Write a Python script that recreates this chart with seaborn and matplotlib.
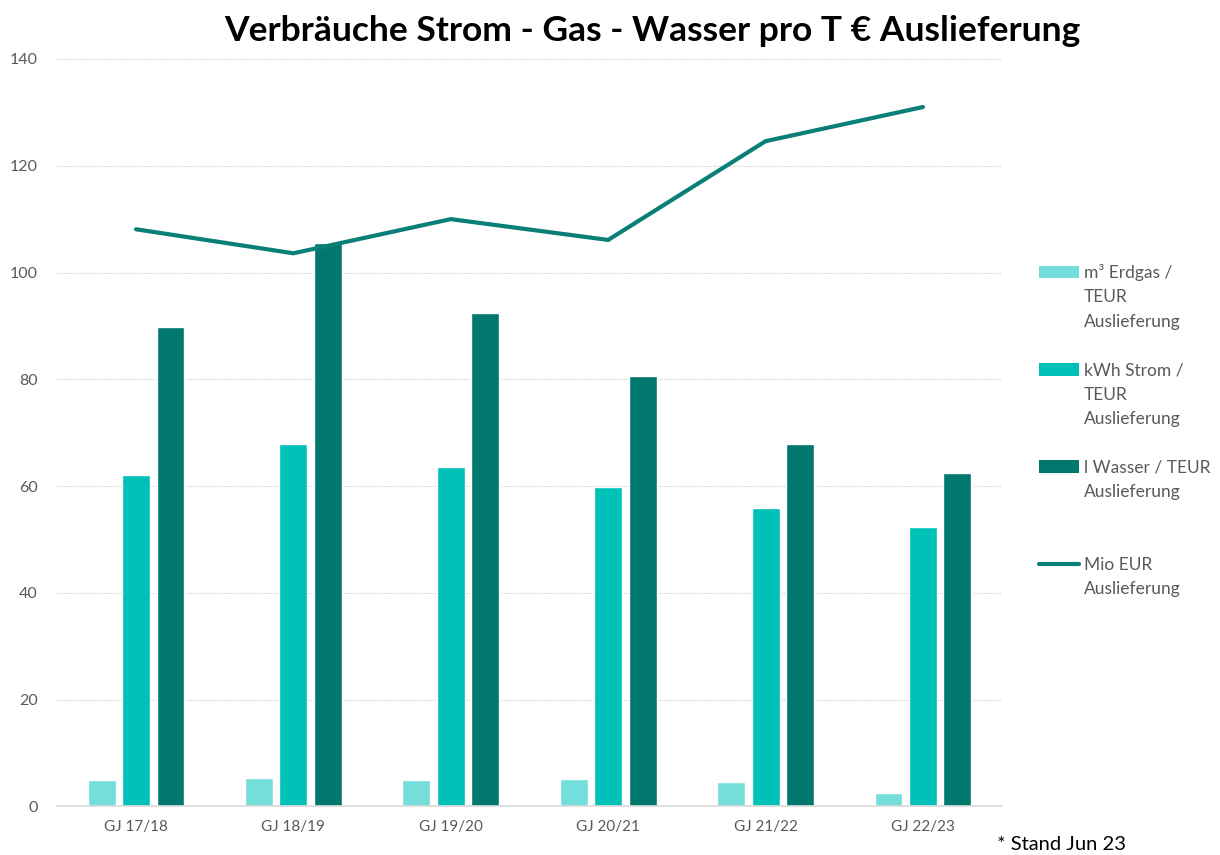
import numpy as np
import pandas as pd
import matplotlib
matplotlib.use("Agg")
import matplotlib.pyplot as plt
from matplotlib.patches import Patch
from matplotlib.lines import Line2D
import seaborn as sns

categories = ["GJ 17/18", "GJ 18/19", "GJ 19/20", "GJ 20/21", "GJ 21/22", "GJ 22/23"]
gas = [4.9, 5.3, 4.9, 5.2, 4.6, 2.5]
strom = [62.0, 67.8, 63.5, 59.8, 55.8, 52.3]
wasser = [89.8, 105.5, 92.4, 80.6, 67.8, 62.4]
mio_eur = [108.1, 103.6, 110.0, 106.1, 124.6, 131.0]

series_names = ["m³ Erdgas / TEUR Auslieferung",
                "kWh Strom / TEUR Auslieferung",
                "l Wasser / TEUR Auslieferung"]
line_name = "Mio EUR Auslieferung"
# wrapped legend label lines, as in the original legend
legend_lines = [["m³ Erdgas /", "TEUR", "Auslieferung"],
                ["kWh Strom /", "TEUR", "Auslieferung"],
                ["l Wasser / TEUR", "Auslieferung"],
                ["Mio EUR", "Auslieferung"]]
yticks = [0, 20, 40, 60, 80, 100, 120, 140]

colors = ["#74DEDA", "#00C1B8", "#00786E"]
line_color = "#0A7F77"

sns.set_theme(style="white")
plt.rcParams["font.family"] = ["Lato", "DejaVu Sans"]

df = pd.DataFrame({
    "cat": categories * 3,
    "val": gas + strom + wasser,
    "series": [series_names[0]] * 6 + [series_names[1]] * 6 + [series_names[2]] * 6,
})

fig = plt.figure(figsize=(12.2, 8.55), dpi=100)
ax = fig.add_axes([0.047, 0.057, 0.774, 0.874])

sns.barplot(data=df, x="cat", y="val", hue="series", order=categories,
            hue_order=series_names, palette=colors, width=0.657, gap=0.19,
            saturation=1, errorbar=None, ax=ax, zorder=2, legend=False)
sns.lineplot(x=categories, y=mio_eur, color=line_color, linewidth=3,
             ax=ax, zorder=3, legend=False)

ax.set_ylim(0, 140)
ax.set_xlim(-0.5, len(categories) - 0.5)
ax.set_yticks(yticks)
ax.set_yticklabels([str(t) for t in yticks])
ax.grid(axis="y", color="#D0D0D0", linestyle=(0, (1, 1)), linewidth=0.8, zorder=0)
ax.set_axisbelow(True)
for s in ["top", "right", "left"]:
    ax.spines[s].set_visible(False)
ax.spines["bottom"].set_color("#D9D9D9")
ax.spines["bottom"].set_linewidth(1.2)
ax.set_xlabel("")
ax.set_ylabel("")
ax.tick_params(axis="both", length=0, colors="#595959")
ax.tick_params(axis="y", pad=14, labelsize=11.5)
ax.tick_params(axis="x", pad=10, labelsize=11)

# legend: handle on first line of each wrapped label, fixed slot of 4 rows
blank = Patch(facecolor="none", edgecolor="none")
main_handles = [Patch(facecolor=c, edgecolor="none") for c in colors] + \
               [Line2D([], [], color=line_color, linewidth=3)]
handles, labels = [], []
for h, lines in zip(main_handles, legend_lines):
    rows = lines + [" "] * (4 - len(lines))
    for i, txt in enumerate(rows):
        handles.append(h if i == 0 else blank)
        labels.append(txt)
handles, labels = handles[:-2], labels[:-2]
leg = ax.legend(handles, labels, loc="upper left", bbox_to_anchor=(1.032, 0.735),
                frameon=False, fontsize=12.5, labelcolor="#595959",
                handlelength=2.3, handleheight=0.75, labelspacing=0.48,
                handletextpad=0.3, borderaxespad=0)

fig.suptitle("Verbräuche Strom - Gas - Wasser pro T € Auslieferung",
             x=0.535, y=0.982, fontsize=25.5, fontweight="bold", color="black")
fig.text(0.817, 0.006, "* Stand Jun 23", fontsize=14.5, color="black")

fig.savefig("out.png", dpi=100)
